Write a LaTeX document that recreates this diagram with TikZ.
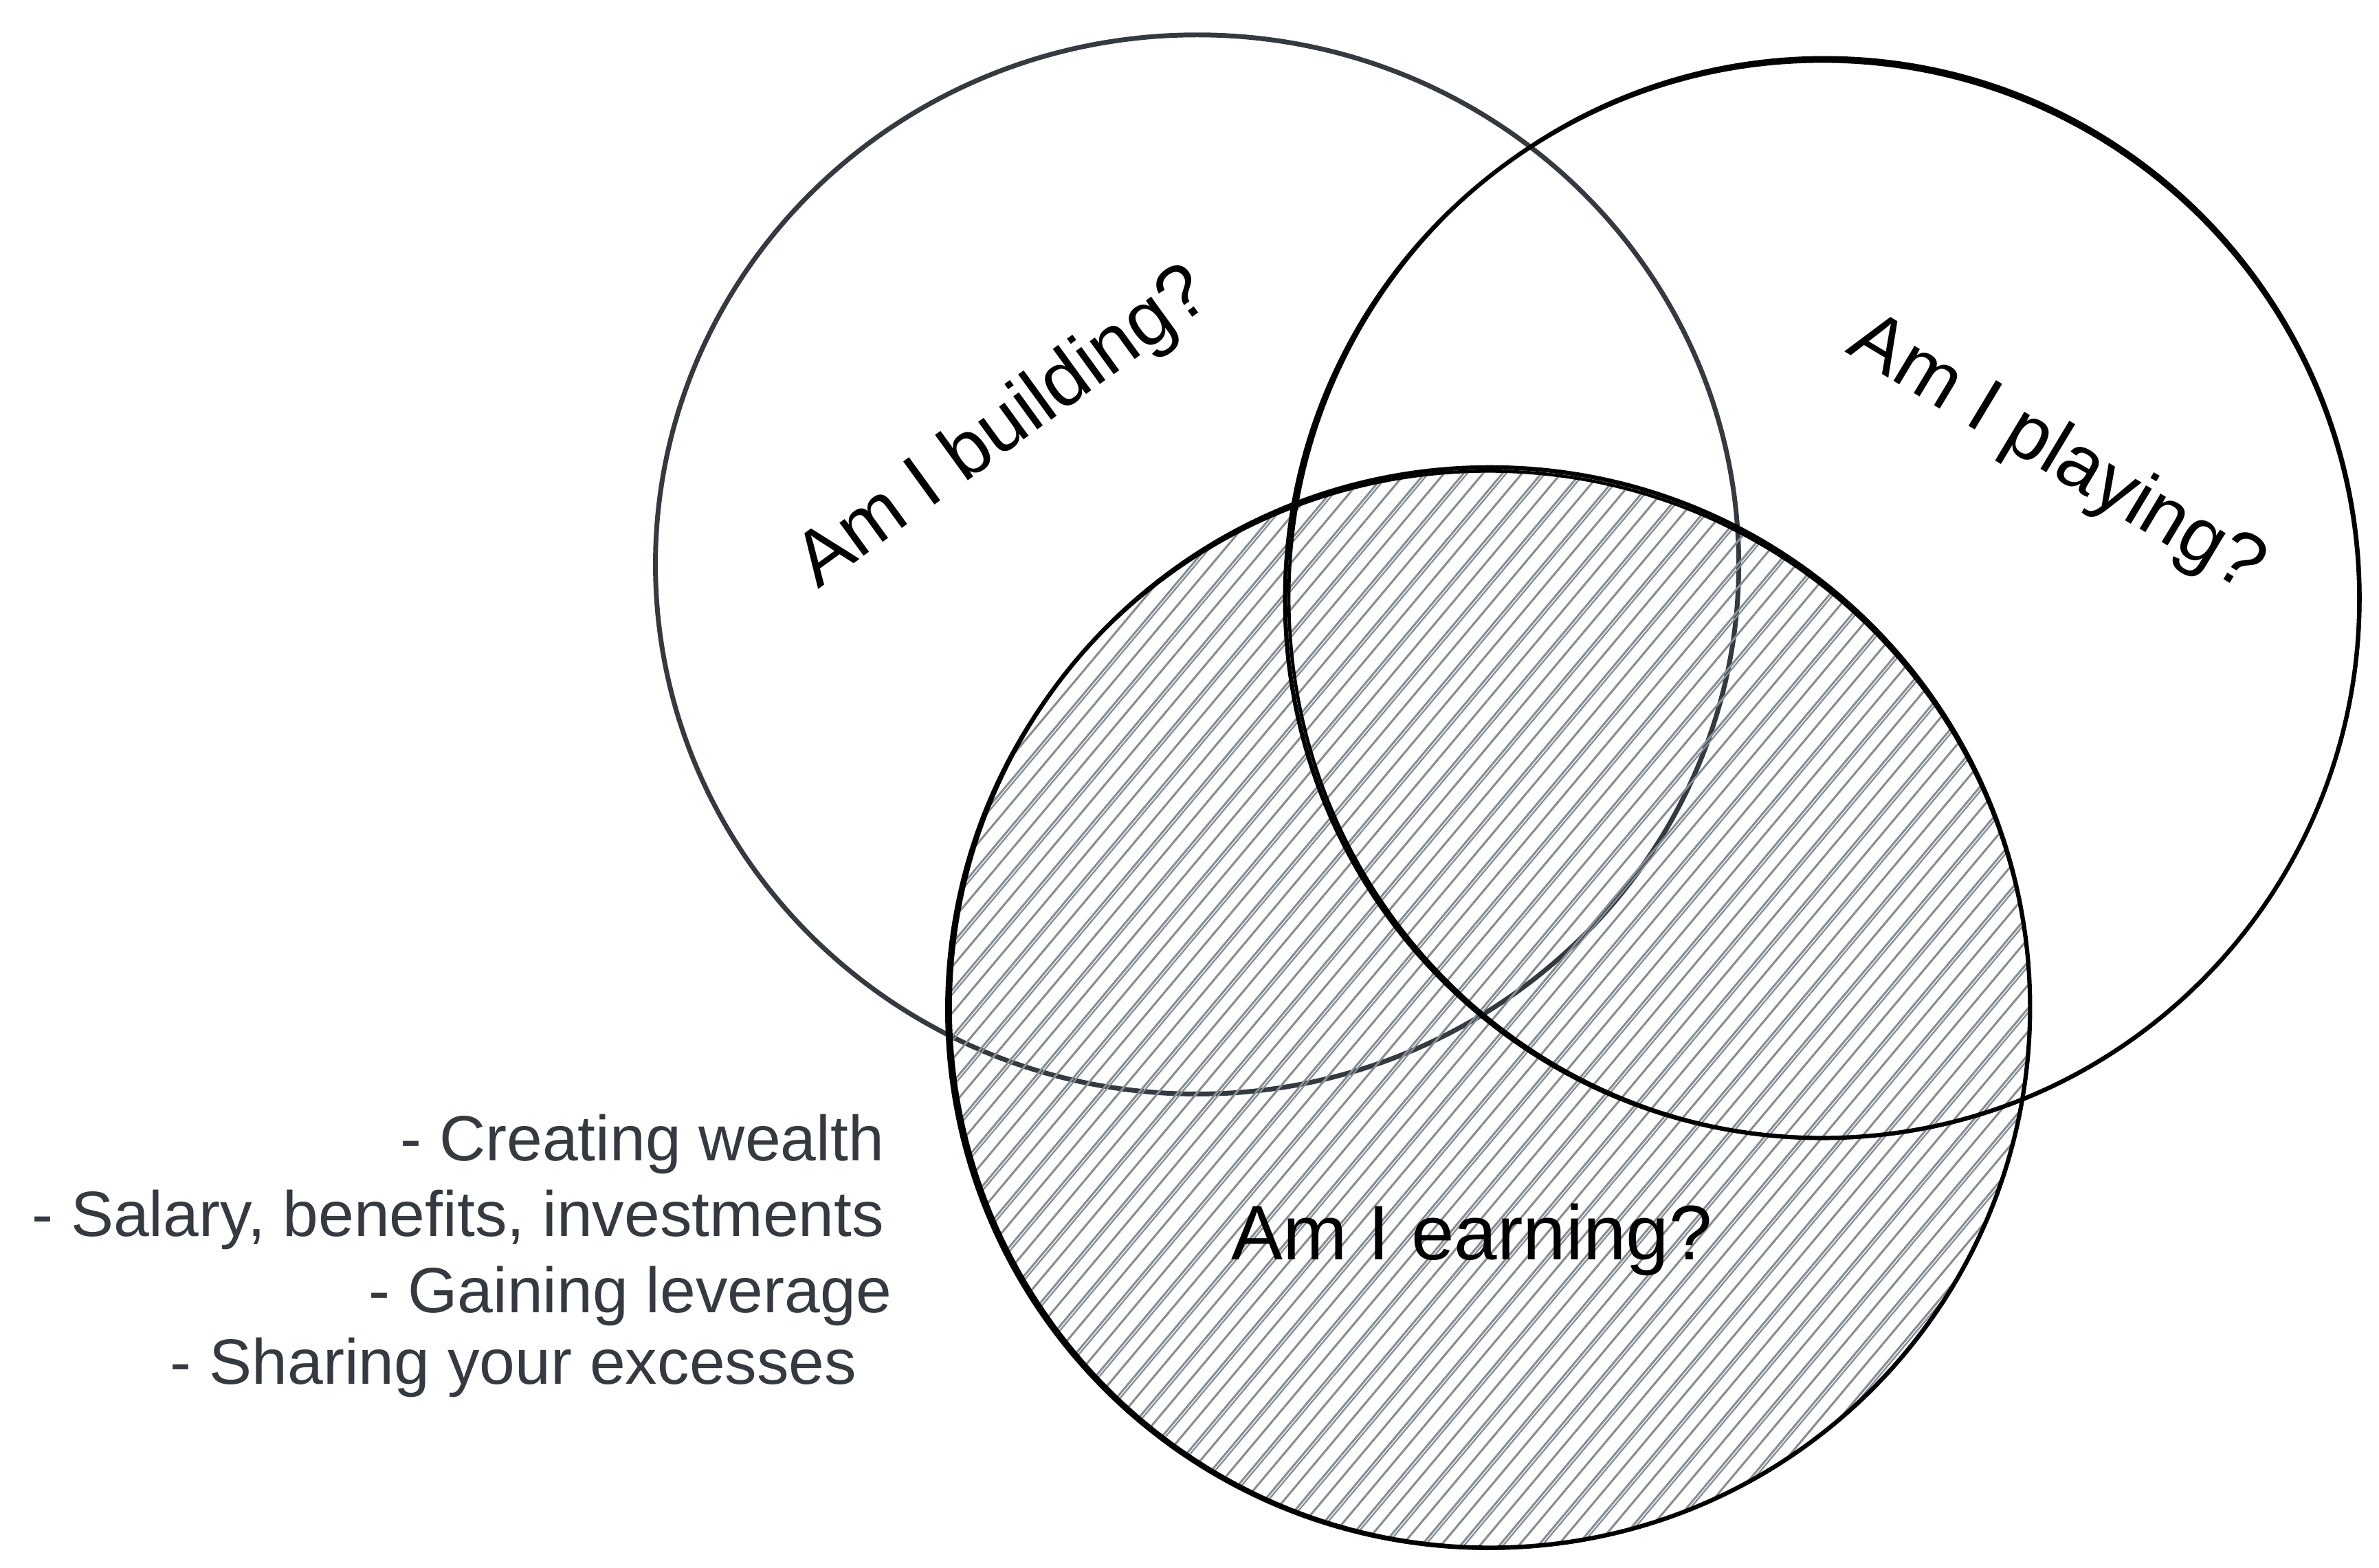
\documentclass[tikz,border=0pt]{standalone}
\usepackage{fontspec}
\setmainfont{Liberation Sans}
\usepackage{tikz}
\usetikzlibrary{patterns.meta,positioning,calc}
\usepackage{xcolor}
\definecolor{pengray}{HTML}{343A40}
\definecolor{hatchgray}{HTML}{868E96}
\tikzset{
  ring/.style={line width=1.6pt, draw=black},
  question/.style={font=\fontsize{29}{34}\selectfont, text=black, inner sep=0pt},
  item/.style={font=\fontsize{24}{29}\selectfont, text=pengray, anchor=base east, inner sep=0pt}
}

\begin{document}
\begin{tikzpicture}[x=0.02cm, y=-0.02cm]
  \useasboundingbox (0,0) rectangle (1568,1033);

  % centres of the three sets
  \coordinate (build) at (789,372);
  \coordinate (play) at (1201,395);
  \coordinate (earn) at (982,664);

  % building
  \draw[line width=1.8pt, pengray] (build) ellipse [x radius=357, y radius=349];

  % earning is the hatched one (second layer gives the doubled strokes)
  \fill[pattern={Lines[angle=50, distance=5.6pt, line width=0.8pt]}, pattern color=hatchgray]
    (earn) ellipse [x radius=355, y radius=355];
  \fill[pattern={Lines[angle=50, distance=11.2pt, xshift=1.4pt, line width=0.6pt]}, pattern color=hatchgray]
    (earn) ellipse [x radius=355, y radius=355];

  % playing, drawn twice for the sketchy look
  \draw[ring] (play) ellipse [x radius=354, y radius=355];
  \draw[ring, line width=1.2pt] ($(play)+(1.5,-1)$) ellipse [x radius=353, y radius=356];

  % earning
  \draw[ring] (earn) ellipse [x radius=356, y radius=356];
  \draw[ring, line width=1.2pt] ($(earn)+(-1,1.5)$) ellipse [x radius=357, y radius=355];

  \node[question, rotate=36] (qbuild) at (662,283) {Am I building?};
  \node[question, rotate=-31] (qplay) at (1355,300) {Am I playing?};
  \node[question, anchor=base] (qearn) at (970,830) {Am I earning?};

  % list of what earning means
  \foreach \x/\y/\txt [count=\i] in {583/765/{- Creating wealth},
      583/815/{- Salary, benefits, investments},
      588/865/{- Gaining leverage},
      565/912/{- Sharing your excesses}}
    \node[item] (item\i) at (\x,\y) {\txt};
\end{tikzpicture}
\end{document}
